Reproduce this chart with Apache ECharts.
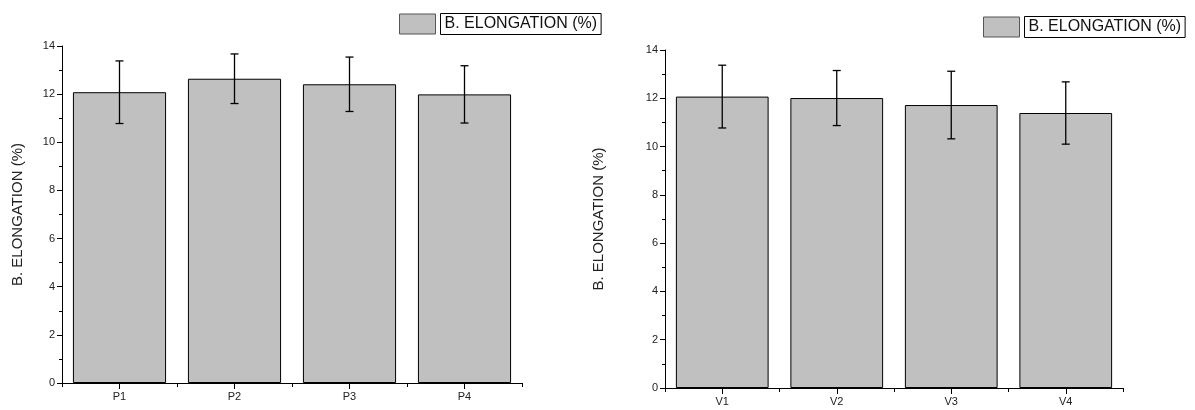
<!DOCTYPE html>
<html>
<head>
<meta charset="utf-8">
<script src="https://cdn.jsdelivr.net/npm/echarts@6/dist/echarts.min.js"></script>
<style>
  html, body { margin: 0; padding: 0; background: #ffffff; }
  #chart { width: 1195px; height: 410px; }
</style>
</head>
<body>
<div id="chart"></div>
<script>
// ---- data ----
const seriesName = 'B. ELONGATION (%)';
const categoriesP = ['P1', 'P2', 'P3', 'P4'];
const valuesP = [12.08, 12.64, 12.41, 11.99];
const errorsP = [1.30, 1.03, 1.13, 1.19];

const categoriesV = ['V1', 'V2', 'V3', 'V4'];
const valuesV = [12.07, 12.01, 11.72, 11.39];
const errorsV = [1.30, 1.14, 1.40, 1.29];

const yMin = 0, yMax = 14, yInterval = 2;

// ---- build ----
const font = 'Liberation Sans, Arial, sans-serif';
const barFill = '#c0c0c0';

function errData(vals, errs) {
  return vals.map((v, i) => [i, v - errs[i], v + errs[i]]);
}

function errorRender(params, api) {
  const i = api.value(0);
  const lo = api.coord([i, api.value(1)]);
  const hi = api.coord([i, api.value(2)]);
  const cap = 4;
  const style = { stroke: '#000', lineWidth: 1.3 };
  return {
    type: 'group',
    children: [
      { type: 'line', shape: { x1: hi[0], y1: hi[1], x2: lo[0], y2: lo[1] }, style },
      { type: 'line', shape: { x1: hi[0] - cap, y1: hi[1], x2: hi[0] + cap, y2: hi[1] }, style },
      { type: 'line', shape: { x1: lo[0] - cap, y1: lo[1], x2: lo[0] + cap, y2: lo[1] }, style }
    ]
  };
}

function mainX(gridIndex, cats) {
  return {
    type: 'category', gridIndex, data: cats, boundaryGap: true, position: 'bottom',
    axisLine: { show: true, lineStyle: { color: '#000', width: 1 } },
    axisTick: { show: true, alignWithLabel: true, length: 6, lineStyle: { color: '#000' } },
    axisLabel: { color: '#222', fontFamily: font, fontSize: 11, margin: 8 },
    splitLine: { show: false }
  };
}
function boundX(gridIndex, cats) {
  return {
    type: 'category', gridIndex, data: cats, boundaryGap: true, position: 'bottom', offset: 0,
    axisLine: { show: false },
    axisTick: { show: true, alignWithLabel: false, length: 4, lineStyle: { color: '#000' } },
    axisLabel: { show: false },
    splitLine: { show: false }
  };
}
function yAx(gridIndex, gap) {
  return {
    type: 'value', gridIndex, min: yMin, max: yMax, interval: yInterval,
    name: seriesName, nameLocation: 'middle', nameGap: gap, nameRotate: 90,
    nameTextStyle: { fontFamily: font, fontSize: 15, color: '#222' },
    axisLine: { show: true, lineStyle: { color: '#000', width: 1 } },
    axisTick: { show: true, length: 5, lineStyle: { color: '#000' } },
    minorTick: { show: true, splitNumber: 2, length: 3, lineStyle: { color: '#000' } },
    axisLabel: { color: '#222', fontFamily: font, fontSize: 11, margin: 7 },
    splitLine: { show: false }
  };
}
function legendAt(left, top) {
  return {
    data: [seriesName], left, top, icon: 'rect', itemWidth: 36, itemHeight: 20,
    padding: 0, selectedMode: false,
    itemStyle: { color: barFill, borderColor: '#555', borderWidth: 1 },
    textStyle: {
      fontFamily: font, fontSize: 16, color: '#111',
      borderColor: '#000', borderWidth: 1, padding: [2, 4, 1, 4], lineHeight: 18
    }
  };
}

const option = {
  backgroundColor: '#ffffff',
  animation: false,
  legend: [legendAt(399, 13), legendAt(983, 16)],
  grid: [
    { left: 62, top: 46, width: 460, height: 337, containLabel: false },
    { left: 665, top: 50, width: 458, height: 338, containLabel: false }
  ],
  xAxis: [mainX(0, categoriesP), mainX(1, categoriesV), boundX(0, categoriesP), boundX(1, categoriesV)],
  yAxis: [yAx(0, 37), yAx(1, 59)],
  series: [
    {
      name: seriesName, type: 'bar', xAxisIndex: 0, yAxisIndex: 0, data: valuesP,
      barCategoryGap: '19%',
      itemStyle: { color: barFill, borderColor: '#000', borderWidth: 1 }
    },
    {
      type: 'custom', xAxisIndex: 0, yAxisIndex: 0, data: errData(valuesP, errorsP),
      renderItem: errorRender, z: 10, encode: { x: 0, y: [1, 2] }
    },
    {
      name: seriesName, type: 'bar', xAxisIndex: 1, yAxisIndex: 1, data: valuesV,
      barCategoryGap: '19%',
      itemStyle: { color: barFill, borderColor: '#000', borderWidth: 1 }
    },
    {
      type: 'custom', xAxisIndex: 1, yAxisIndex: 1, data: errData(valuesV, errorsV),
      renderItem: errorRender, z: 10, encode: { x: 0, y: [1, 2] }
    }
  ]
};

const chart = echarts.init(document.getElementById('chart'), null, { renderer: 'canvas' });
chart.setOption(option);
</script>
</body>
</html>
